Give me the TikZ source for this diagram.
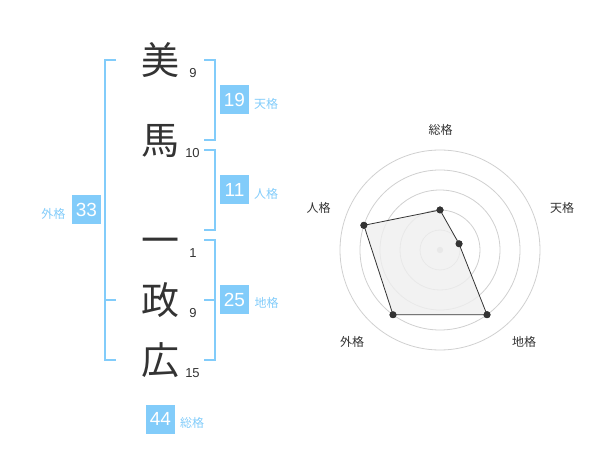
\documentclass[tikz,border=0pt]{standalone}
\usepackage{fontspec}
\setmainfont{Liberation Sans}
\newfontfamily\jp{Noto Sans CJK JP}
\definecolor{sky}{RGB}{130,204,250}
\definecolor{ink}{RGB}{51,51,51}
\definecolor{ring}{RGB}{208,208,208}
\tikzset{
  kanji/.style={font=\jp\fontsize{38}{38}\selectfont, text=ink, inner sep=0pt, anchor=base},
  strokes/.style={font=\fontsize{13}{13}\selectfont, text=ink, inner sep=0pt},
  valbox/.style={fill=sky, text=white, minimum width=29pt, minimum height=29pt, inner sep=0pt, font=\fontsize{19}{19}\selectfont},
  blabel/.style={font=\jp\fontsize{12}{12}\selectfont, text=sky, inner sep=0pt},
  rlabel/.style={font=\jp\fontsize{12}{12}\selectfont, text=ink, inner sep=0pt},
  brk/.style={draw=sky, line width=2pt},
  dot/.style={circle, fill=ink, inner sep=0pt, minimum size=7pt},
}
\begin{document}
\begin{tikzpicture}[x=1pt,y=-1pt]
\useasboundingbox (0,0) rectangle (600,470);
% kanji
\node[kanji] (k1) at (160,74.5) {美};
\node[kanji] (k2) at (160,154.5) {馬};
\node[kanji] (k3) at (160,254.5) {一};
\node[kanji] (k4) at (160,314.5) {政};
\node[kanji] (k5) at (160,374.5) {広};
\node[strokes] (s1) at (193,73) {9};
\node[strokes] (s2) at (192.5,153) {10};
\node[strokes] (s3) at (193,253) {1};
\node[strokes] (s4) at (193,313) {9};
\node[strokes] (s5) at (192.5,373) {15};
% brackets
\draw[brk] (116,60) -- (105,60) -- (105,360) -- (116,360);
\draw[brk] (105,300) -- (116,300);
\draw[brk] (204,60) -- (215,60) -- (215,140) -- (204,140);
\draw[brk] (204,150) -- (215,150) -- (215,230) -- (204,230);
\draw[brk] (204,240) -- (215,240) -- (215,360) -- (204,360);
\draw[brk] (204,300) -- (215,300);
% value boxes
\node[valbox] (ten) at (234.5,100) {19};
\node[blabel] (tenl) at (266,104) {天格};
\node[valbox] (jin) at (234.5,190) {11};
\node[blabel] (jinl) at (266,194) {人格};
\node[valbox] (chi) at (234.5,300) {25};
\node[blabel] (chil) at (266.5,303) {地格};
\node[valbox] (gai) at (86.5,210) {33};
\node[blabel] (gail) at (53.5,213.5) {外格};
\node[valbox] (sou) at (160.5,419) {44};
\node[blabel] (soul) at (192,423) {総格};
% radar
\foreach \r in {20,40,60,80,100} \draw[ring, line width=0.8pt] (440,250) circle (\r);
\fill[ring] (440,250) circle (3.2);
\node[dot] (p1) at (440,210) {};
\node[dot] (p2) at (459.0,243.8) {};
\node[dot] (p3) at (487.0,314.7) {};
\node[dot] (p4) at (393.0,314.7) {};
\node[dot] (p5) at (363.9,225.3) {};
\fill[ink!8, opacity=0.8] (p1.center) -- (p2.center) -- (p3.center) -- (p4.center) -- (p5.center) -- cycle;
\draw[ink, line width=0.8pt] (p1.center) -- (p2.center) -- (p3.center) -- (p4.center) -- (p5.center) -- cycle;
\foreach \p in {p1,p2,p3,p4,p5} \fill[ink] (\p) circle (3.5);
\node[rlabel] (r1) at (440.7,130) {総格};
\node[rlabel] (r2) at (562,208) {天格};
\node[rlabel] (r3) at (524,342) {地格};
\node[rlabel] (r4) at (352,342) {外格};
\node[rlabel] (r5) at (318.5,208) {人格};
\end{tikzpicture}
\end{document}
